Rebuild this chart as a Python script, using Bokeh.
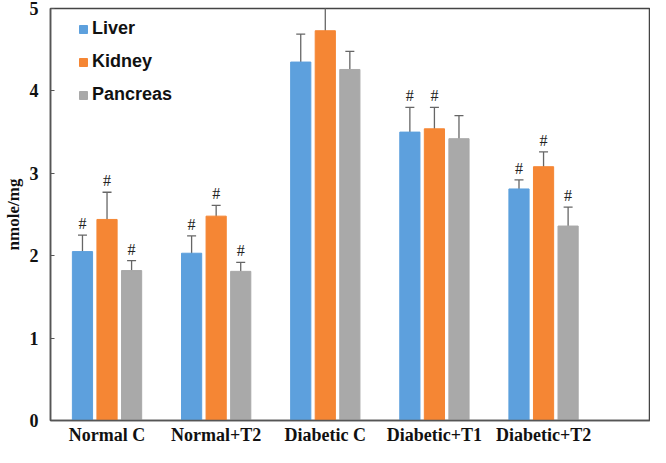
from bokeh.plotting import figure
from bokeh.models import ColumnDataSource, Whisker, Range1d, FixedTicker, Legend, LegendItem
from bokeh.core.properties import value
from bokeh.embed import file_html
from bokeh.resources import INLINE

categories = ["Normal C", "Normal+T2", "Diabetic C", "Diabetic+T1", "Diabetic+T2"]
series_names = ["Liver", "Kidney", "Pancreas"]
liver = [2.05, 2.03, 4.35, 3.50, 2.81]
liver_err = [0.20, 0.21, 0.34, 0.30, 0.11]
kidney = [2.44, 2.48, 4.73, 3.54, 3.08]
kidney_err = [0.33, 0.13, 0.31, 0.26, 0.18]
pancreas = [1.82, 1.81, 4.26, 3.42, 2.36]
pancreas_err = [0.12, 0.11, 0.22, 0.28, 0.23]
liver_sig = ["#", "#", "", "#", "#"]
kidney_sig = ["#", "#", "", "#", "#"]
pancreas_sig = ["#", "#", "", "", "#"]
y_ticks = [0, 1, 2, 3, 4, 5]

colors = ["#5DA0DD", "#F58634", "#A9A9A9"]
offsets = [-0.225, 0.0, 0.225]
bar_w = 0.185

p = figure(width=650, height=447, output_backend="svg", toolbar_location=None,
           x_range=Range1d(-0.518, 4.98), y_range=Range1d(0, 5),
           min_border_left=43, min_border_right=0, min_border_top=8, min_border_bottom=0)
p.xgrid.visible = False
p.ygrid.visible = False
p.outline_line_color = "#444444"
p.outline_line_width = 1.5
p.background_fill_color = "white"
p.border_fill_color = "white"

items = []
for name, vals, errs, sig, off, col in zip(
        series_names, [liver, kidney, pancreas], [liver_err, kidney_err, pancreas_err],
        [liver_sig, kidney_sig, pancreas_sig], offsets, colors):
    xs = [i + off for i in range(len(categories))]
    src = ColumnDataSource(dict(
        x=xs, top=vals,
        upper=[v + e for v, e in zip(vals, errs)],
        lower=[v - e for v, e in zip(vals, errs)],
        sig=sig))
    r = p.vbar(x="x", top="top", width=bar_w, source=src, fill_color=col, line_color=col)
    items.append(LegendItem(label=name, renderers=[r]))
    w = Whisker(base="x", upper="upper", lower="lower", source=src,
                line_color="#666666", line_width=1.3)
    w.upper_head.size = 9
    w.lower_head.size = 9
    w.upper_head.line_color = "#666666"
    w.lower_head.line_color = "#666666"
    w.upper_head.line_width = 1.3
    w.lower_head.line_width = 1.3
    p.add_layout(w)
    p.text(x="x", y="upper", text="sig", source=src, text_align="center",
           text_baseline="bottom", y_offset=-3, text_font=value("Liberation Serif"),
           text_font_size="16px", text_color="#222222")

legend = Legend(items=items, location=(28, 315))
legend.glyph_width = 10
legend.glyph_height = 10
legend.label_text_font = "Liberation Sans"
legend.label_text_font_style = "bold"
legend.label_text_font_size = "18px"
legend.label_text_color = "#111111"
legend.spacing = 12
legend.margin = 0
legend.padding = 0
legend.border_line_color = None
legend.background_fill_alpha = 0
legend.label_standoff = 4
p.add_layout(legend)

p.xaxis.ticker = FixedTicker(ticks=list(range(len(categories))))
p.xaxis.major_label_overrides = {i: c for i, c in enumerate(categories)}
p.xaxis.major_tick_line_color = None
p.xaxis.minor_tick_line_color = None
p.xaxis.major_tick_in = 0
p.xaxis.major_tick_out = 0
p.xaxis.axis_line_color = "#555555"
p.xaxis.axis_line_width = 1.5
p.xaxis.major_label_text_font = "Liberation Serif"
p.xaxis.major_label_text_font_style = "bold"
p.xaxis.major_label_text_font_size = "18px"
p.xaxis.major_label_text_color = "#111111"
p.xaxis.major_label_standoff = 4

p.yaxis.ticker = FixedTicker(ticks=y_ticks)
p.yaxis.minor_tick_line_color = None
p.yaxis.major_tick_in = 4
p.yaxis.major_tick_out = 0
p.yaxis.major_tick_line_color = "#555555"
p.yaxis.axis_line_color = "#555555"
p.yaxis.axis_line_width = 1.5
p.yaxis.major_label_text_font = "Liberation Serif"
p.yaxis.major_label_text_font_style = "bold"
p.yaxis.major_label_text_font_size = "18px"
p.yaxis.major_label_text_color = "#111111"
p.yaxis.major_label_standoff = 12
p.yaxis.axis_label = "nmole/mg"
p.yaxis.axis_label_text_font = "Liberation Serif"
p.yaxis.axis_label_text_font_style = "bold"
p.yaxis.axis_label_text_font_size = "17px"
p.yaxis.axis_label_text_color = "#111111"
p.yaxis.axis_label_standoff = 4

open("out.html", "w").write(file_html(p, INLINE))
